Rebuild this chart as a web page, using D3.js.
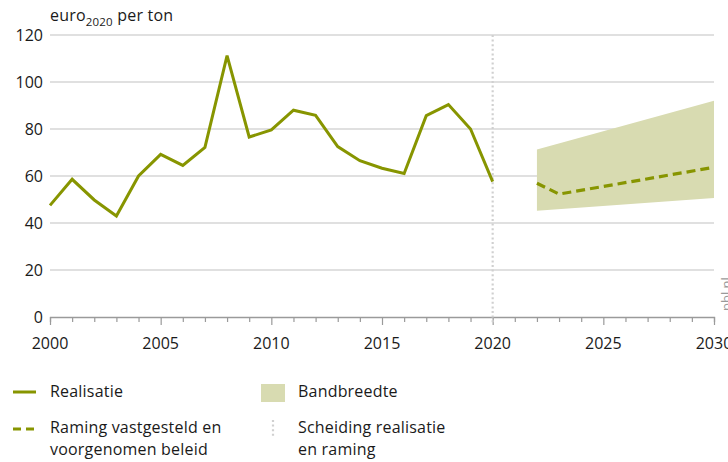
<!DOCTYPE html>
<head>
	<meta charset="utf-8">
	<script src="https://d3js.org/d3.v7.min.js"></script>
	<style>
		body {
			margin: 0;
			background: #fff;
			font-family: "Open Sans", sans-serif;
		}
		text {
			fill: #1a1a1a;
			font-size: 16px;
		}
	</style>
</head>
<body>

<svg width="728" height="462" id="chart"></svg>

<script>

	// realisatie
	var years = [2000, 2001, 2002, 2003, 2004, 2005, 2006, 2007, 2008, 2009, 2010,
		2011, 2012, 2013, 2014, 2015, 2016, 2017, 2018, 2019, 2020];
	var realisatie = [47.5, 58.6, 49.8, 43, 60, 69.2, 64.5, 72.2, 111.2, 76.6, 79.6,
		88, 85.8, 72.5, 66.5, 63.3, 61.1, 85.7, 90.4, 80, 57.6];

	// raming
	var ramingYears = [2022, 2023, 2030];
	var raming = [56.9, 52.3, 63.7];

	// bandbreedte
	var bandYears = [2022, 2030];
	var bandLow = [45.2, 50.6];
	var bandHigh = [71.3, 92];

	var yTicks = [0, 20, 40, 60, 80, 100, 120];
	var xTicks = [2000, 2005, 2010, 2015, 2020, 2025, 2030];
	var splitYear = 2020;

	var green = "#879500",
		band = "#d8dbb1",
		grid = "#d6d6d6";

	var svg = d3.select("#chart");

	var x = d3.scaleLinear().domain([2000, 2030]).range([50, 714]);
	var y = d3.scaleLinear().domain([0, 120]).range([317, 35]);

	// gridlines
	svg.append("g")
		.selectAll("line")
		.data(yTicks.slice(1))
		.enter().append("line")
		.attr("x1", x(2000))
		.attr("x2", x(2030))
		.attr("y1", d => y(d))
		.attr("y2", d => y(d))
		.attr("stroke", grid)
		.attr("stroke-width", 1.3);

	// y labels
	svg.append("g")
		.selectAll("text")
		.data(yTicks)
		.enter().append("text")
		.attr("x", 43)
		.attr("y", d => y(d))
		.attr("dy", "0.35em")
		.attr("text-anchor", "end")
		.text(d => d);

	// unit
	var unit = svg.append("text")
		.attr("x", 50)
		.attr("y", 21)
		.style("letter-spacing", "0.2px");
	unit.append("tspan").text("euro");
	unit.append("tspan").attr("dy", 5).style("font-size", "11.5px").text("2020");
	unit.append("tspan").attr("dy", -5).text(" per ton");

	// band
	var bandData = bandYears.map((yr, i) => ({year: yr, lo: bandLow[i], hi: bandHigh[i]}));
	svg.append("path")
		.datum(bandData)
		.attr("fill", band)
		.attr("d", d3.area()
			.x(d => x(d.year))
			.y0(d => y(d.lo))
			.y1(d => y(d.hi)));

	// x axis
	var xAxis = svg.append("g")
		.attr("transform", "translate(0," + y(0) + ")")
		.call(d3.axisBottom(x)
			.tickValues(d3.range(2000, 2031))
			.tickSize(5)
			.tickFormat(""));
	xAxis.select(".domain").attr("stroke", "#9a9a9a").attr("stroke-width", 1.3);
	xAxis.selectAll(".tick line")
		.attr("stroke", "#9a9a9a")
		.attr("stroke-width", 1.2)
		.attr("y2", d => d % 5 === 0 ? 8 : 5);

	svg.append("g")
		.selectAll("text")
		.data(xTicks)
		.enter().append("text")
		.attr("x", d => x(d))
		.attr("y", 349)
		.attr("text-anchor", "middle")
		.text(d => d);

	// scheiding
	svg.append("line")
		.attr("x1", x(splitYear))
		.attr("x2", x(splitYear))
		.attr("y1", 35)
		.attr("y2", 324)
		.attr("stroke", "#d0d0d0")
		.attr("stroke-width", 2.2)
		.attr("stroke-dasharray", "2,2.6");

	// realisatie line
	svg.append("path")
		.datum(years.map((yr, i) => [yr, realisatie[i]]))
		.attr("fill", "none")
		.attr("stroke", green)
		.attr("stroke-width", 3)
		.attr("stroke-linejoin", "miter")
		.attr("d", d3.line().x(d => x(d[0])).y(d => y(d[1])));

	// raming line
	svg.append("path")
		.datum(ramingYears.map((yr, i) => [yr, raming[i]]))
		.attr("fill", "none")
		.attr("stroke", green)
		.attr("stroke-width", 3.2)
		.attr("stroke-dasharray", "9,5")
		.attr("d", d3.line().x(d => x(d[0])).y(d => y(d[1])));

	// pbl.nl
	svg.append("text")
		.attr("transform", "translate(731,311) rotate(-90)")
		.style("font-size", "13px")
		.style("fill", "#9a9a9a")
		.text("pbl.nl");

	// legend
	var legend = svg.append("g").style("letter-spacing", "0.2px");

	legend.append("line")
		.attr("x1", 13).attr("x2", 36)
		.attr("y1", 392).attr("y2", 392)
		.attr("stroke", green).attr("stroke-width", 3);
	legend.append("text").attr("x", 50).attr("y", 397).text("Realisatie");

	legend.append("line")
		.attr("x1", 13).attr("x2", 36)
		.attr("y1", 429).attr("y2", 429)
		.attr("stroke", green).attr("stroke-width", 3)
		.attr("stroke-dasharray", "8,5");
	legend.append("text").attr("x", 50).attr("y", 433).text("Raming vastgesteld en");
	legend.append("text").attr("x", 50).attr("y", 455).text("voorgenomen beleid");

	legend.append("rect")
		.attr("x", 261).attr("y", 384)
		.attr("width", 24).attr("height", 18)
		.attr("fill", band);
	legend.append("text").attr("x", 298).attr("y", 397).text("Bandbreedte");

	legend.append("line")
		.attr("x1", 273).attr("x2", 273)
		.attr("y1", 420).attr("y2", 436)
		.attr("stroke", "#d0d0d0").attr("stroke-width", 2.2)
		.attr("stroke-dasharray", "2,2.6");
	legend.append("text").attr("x", 298).attr("y", 433).text("Scheiding realisatie");
	legend.append("text").attr("x", 298).attr("y", 455).text("en raming");

</script>
</body>
